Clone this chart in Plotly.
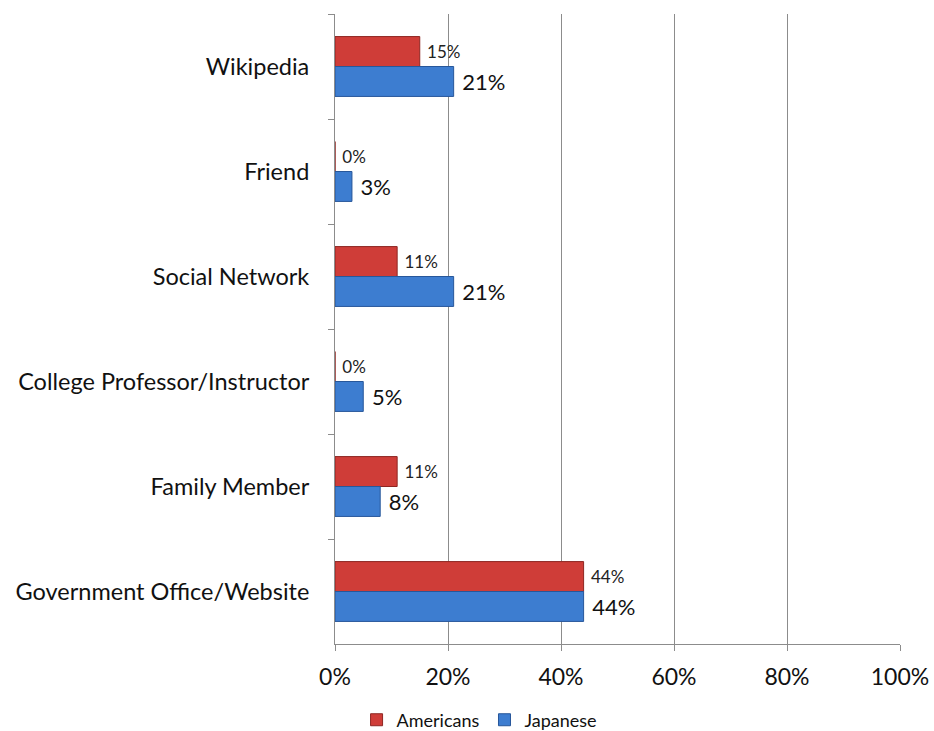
import plotly.graph_objects as go

# Source categories, top to bottom
categories = [
    "Wikipedia",
    "Friend",
    "Social Network",
    "College Professor/Instructor",
    "Family Member",
    "Government Office/Website",
]
americans = [15, 0, 11, 0, 11, 44]
japanese = [21, 3, 21, 5, 8, 44]
x_ticks = [0, 20, 40, 60, 80, 100]

FONT = "Lato, 'Open Sans', sans-serif"
GAP = "\u00a0"  # small lead-in so the value labels sit a little off the bar ends

fig = go.Figure()
fig.add_trace(go.Bar(
    name="Americans",
    y=categories, x=americans, orientation="h",
    marker=dict(color="#CF3D38", line=dict(color="#8E2622", width=1)),
    text=[f"{GAP}{v}%" for v in americans], textposition="outside",
    textfont=dict(size=17, color="#222222", family=FONT),
    cliponaxis=False,
))
fig.add_trace(go.Bar(
    name="Japanese",
    y=categories, x=japanese, orientation="h",
    marker=dict(color="#3D7DD0", line=dict(color="#27579A", width=1)),
    text=[f"{GAP}{v}%" for v in japanese], textposition="outside",
    textfont=dict(size=22, color="#111111", family=FONT),
    cliponaxis=False,
))

fig.update_layout(
    width=934, height=731,
    margin=dict(l=335, r=34, t=14, b=87, autoexpand=False),
    barmode="group", bargap=0.43, bargroupgap=0,
    plot_bgcolor="white", paper_bgcolor="white",
    font=dict(family=FONT, color="#111111"),
    showlegend=True,
    legend=dict(
        orientation="h", x=0.255, xanchor="center",
        yref="container", y=0.015, yanchor="middle",
        font=dict(size=18, family=FONT), itemwidth=30,
    ),
    xaxis=dict(
        range=[0, 100], tickvals=x_ticks, ticktext=[f"{t}%" for t in x_ticks],
        showgrid=True, gridcolor="#8c8c8c", gridwidth=1,
        showline=True, linecolor="#8c8c8c", linewidth=1,
        ticks="outside", ticklen=6, tickcolor="#8c8c8c",
        tickfont=dict(size=23, family=FONT), zeroline=False,
        ticklabelstandoff=6,
    ),
    yaxis=dict(
        categoryorder="array", categoryarray=categories, autorange="reversed",
        showline=True, linecolor="#8c8c8c", linewidth=1,
        ticks="outside", ticklen=6, tickcolor="#8c8c8c", tickson="boundaries",
        tickfont=dict(size=23.5, family=FONT), ticklabelstandoff=20,
    ),
)

fig.write_html("out.html")
